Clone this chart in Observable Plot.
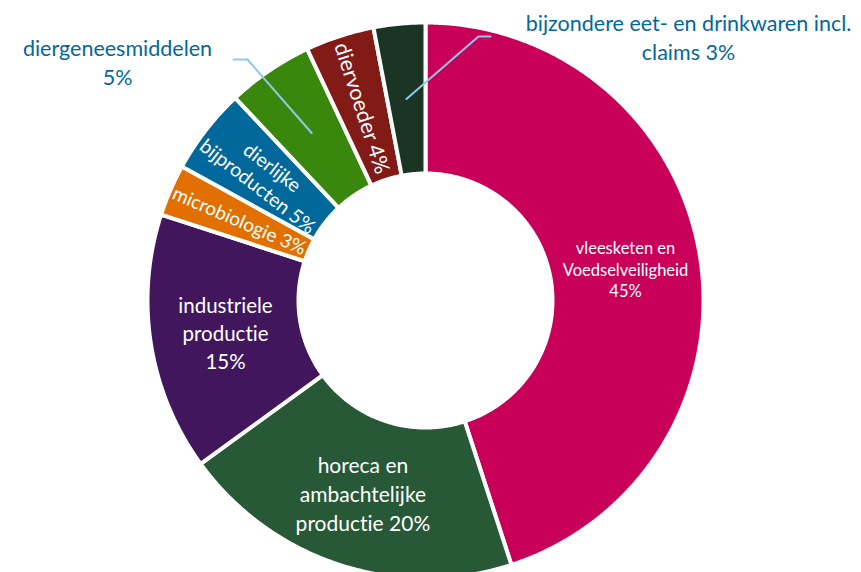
<!DOCTYPE html>
<html><head><meta charset="utf-8">
<script src="https://cdn.jsdelivr.net/npm/d3@7"></script>
<script src="https://cdn.jsdelivr.net/npm/@observablehq/plot@0.6"></script>
<style>html,body{margin:0;padding:0;background:#fff;overflow:hidden} svg text{font-variant-ligatures:none;font-feature-settings:"liga" 0}</style>
</head><body><div id="chart"></div>
<script>
// ---- data ----
const categories = ["vleesketen en Voedselveiligheid", "horeca en ambachtelijke productie", "industriele productie", "microbiologie", "dierlijke bijproducten", "diergeneesmiddelen", "diervoeder", "bijzondere eet- en drinkwaren incl. claims"];
const shares = [45, 20, 15, 3, 5, 5, 4, 3];
const colors = ["#C8005A", "#275937", "#42165C", "#E17000", "#01689B", "#39870C", "#821A16", "#1B3525"];
const labelText = ["vleesketen en\nVoedselveiligheid\n45%", "horeca en\nambachtelijke\nproductie 20%", "industriele\nproductie\n15%", "microbiologie 3%", "dierlijke\nbijproducten 5%", "diergeneesmiddelen\n5%", "diervoeder 4%", "bijzondere eet- en drinkwaren incl.\nclaims 3%"];
const labelKind = ["inner", "inner", "inner", "radial", "radial", "outer", "radial", "outer"];

// ---- layout ----
const W = 861, H = 572, cx = 425, cy = 300, R = 278, r = 127, rm = 202.5;
const fontSizes = [16.5, 21, 20.5, 19, 19.5, 21.5, 21.5, 21.5];
const lineHeights = [1.3, 1.38, 1.35, 1.2, 1.22, 1.35, 1.2, 1.35];
// outer label anchor points (relative to center, y up) and leader elbows
const outerPos = {5: {tx: -308, ty: 239.5, elbow: [[-178, 241], [-192, 241]]},
                  7: {tx: 263, ty: 264.5, elbow: [[53, 264], [65, 264]]}};

const arcs = d3.pie().sort(null).value(d => d)(shares);
const polys = [];
arcs.forEach((p, i) => {
  const a0 = p.startAngle, a1 = p.endAngle;
  const n = Math.max(2, Math.ceil((a1 - a0) / (Math.PI / 360)));
  for (let k = 0; k <= n; k++) { const a = a0 + (a1 - a0) * k / n; polys.push({cat: categories[i], x: R * Math.sin(a), y: R * Math.cos(a)}); }
  for (let k = n; k >= 0; k--) { const a = a0 + (a1 - a0) * k / n; polys.push({cat: categories[i], x: r * Math.sin(a), y: r * Math.cos(a)}); }
});

const labels = arcs.map((p, i) => {
  const a = (p.startAngle + p.endAngle) / 2;
  const x = rm * Math.sin(a), y = rm * Math.cos(a);
  const rot = labelKind[i] === "radial" ? Math.atan2(Math.cos(a), -Math.sin(a)) * 180 / Math.PI : 0;
  return {i, x, y, rot, text: labelText[i], kind: labelKind[i]};
});

const marks = [
  Plot.line(polys, {x: "x", y: "y", z: "cat", fill: "cat", stroke: "white", strokeWidth: 4, curve: "linear-closed"})
];
labels.forEach(d => {
  if (d.kind === "outer") {
    const o = outerPos[d.i];
    const pts = [{x: d.x, y: d.y}, {x: o.elbow[0][0], y: o.elbow[0][1]}, {x: o.elbow[1][0], y: o.elbow[1][1]}];
    marks.push(Plot.line(pts, {x: "x", y: "y", stroke: "#8FCAE7", strokeWidth: 2}));
    marks.push(Plot.text([d], {x: () => o.tx, y: () => o.ty, text: "text", fill: "#01689B", fontSize: fontSizes[d.i], lineHeight: lineHeights[d.i], textAnchor: "middle", lineAnchor: "middle"}));
  } else {
    marks.push(Plot.text([d], {x: "x", y: "y", text: "text", rotate: d.rot, fill: "white", fontSize: fontSizes[d.i], lineHeight: lineHeights[d.i], textAnchor: "middle", lineAnchor: "middle"}));
  }
});

const chart = Plot.plot({
  width: W, height: H,
  marginTop: 0, marginRight: 0, marginBottom: 0, marginLeft: 0,
  x: {domain: [-cx, W - cx], axis: null},
  y: {domain: [cy - H, cy], axis: null},
  color: {domain: categories, range: colors},
  style: {fontFamily: "Lato, sans-serif", background: "white"},
  marks
});
document.getElementById("chart").appendChild(chart);
</script>
</body></html>
